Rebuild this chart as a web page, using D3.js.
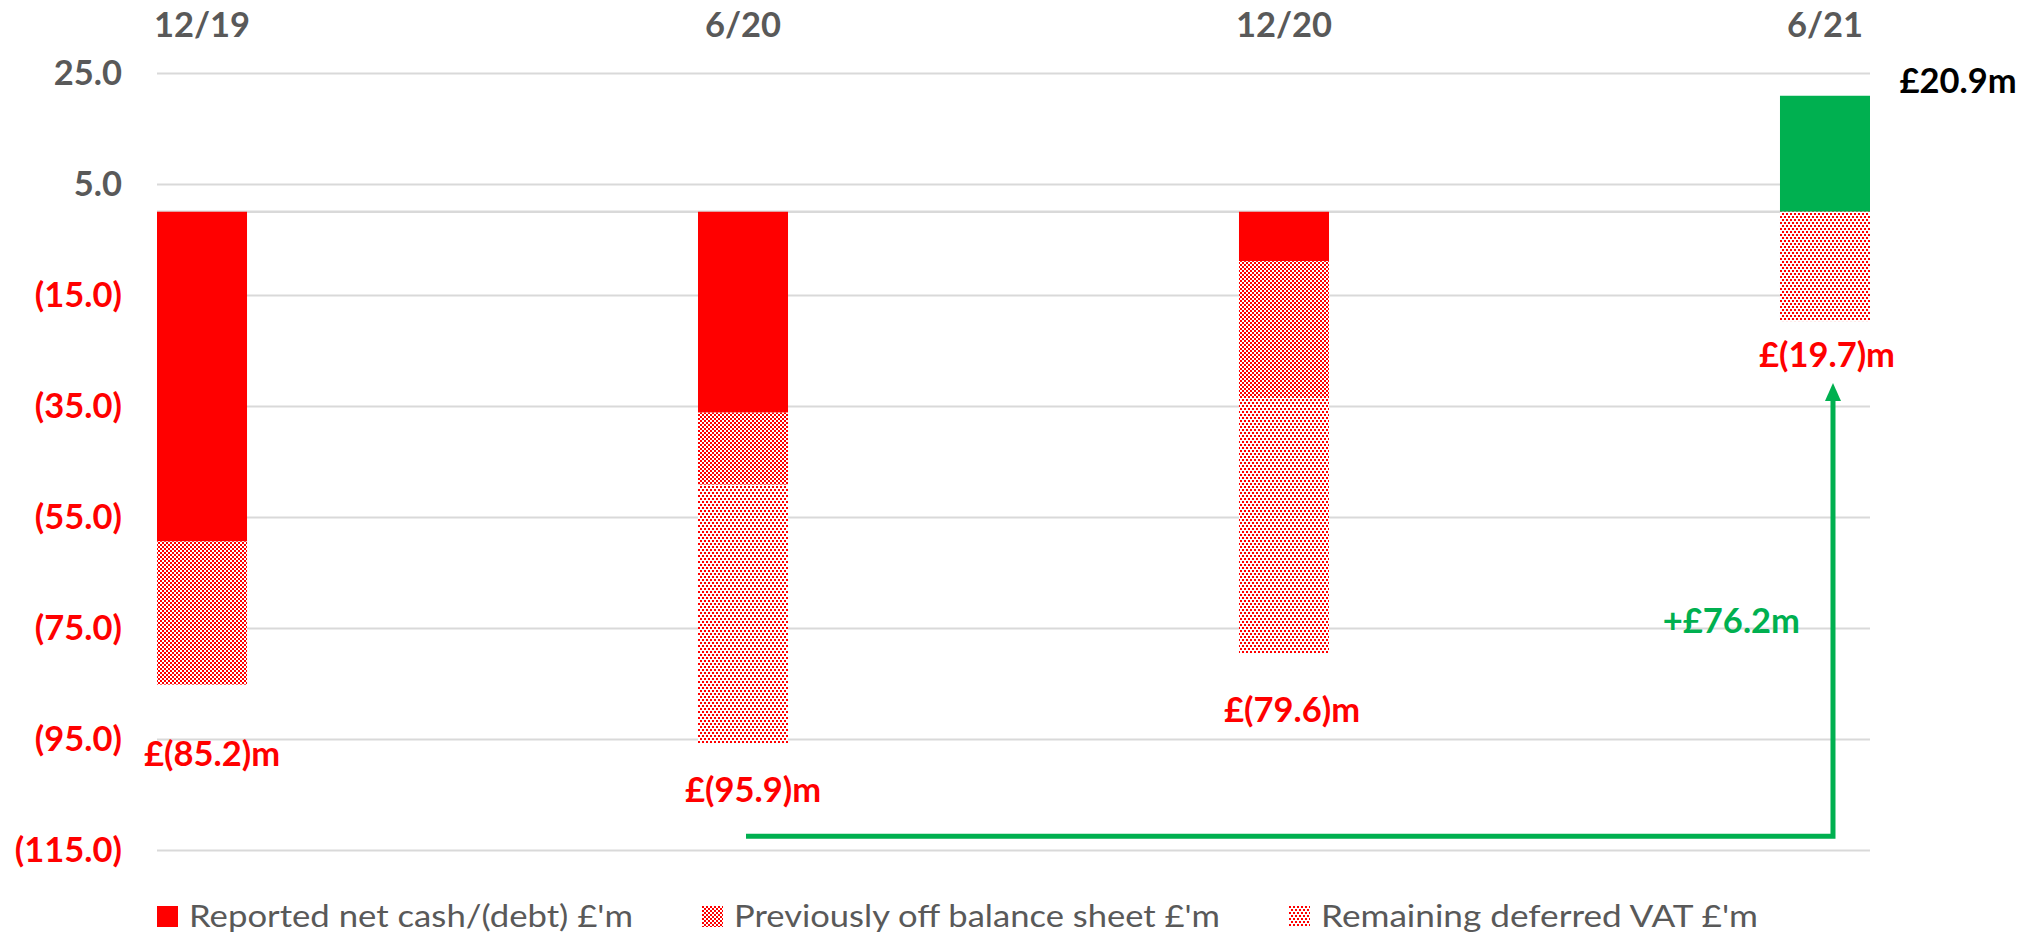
<!DOCTYPE html>
<html>
<head>
<meta charset="utf-8">
<script src="https://cdn.jsdelivr.net/npm/d3@7"></script>
<style>
  html, body { margin: 0; padding: 0; background: #ffffff; }
  svg { display: block; }
</style>
</head>
<body>
<svg id="chart" width="2028" height="933"></svg>
<script>
// ---- data ----
const categories   = ["12/19", "6/20", "12/20", "6/21"];
const reported     = [-59.4, -36.2, -8.9, 20.9];   // Reported net cash/(debt) £'m
const offBalance   = [-25.8, -13.0, -24.3, 0];     // Previously off balance sheet £'m
const deferredVat  = [0, -46.7, -46.4, -19.7];     // Remaining deferred VAT £'m
const seriesNames  = ["Reported net cash/(debt) £'m", "Previously off balance sheet £'m", "Remaining deferred VAT £'m"];
const yTicks       = [25, 5, -15, -35, -55, -75, -95, -115];

// ---- layout ----
const W = 2028, H = 933;
const plot = { left: 157, right: 1870, top: 73, bottom: 850 };
const RED = "#FF0000", GREEN = "#00B050", GREY = "#595959", GRID = "#D9D9D9";
const FONT = "Lato, 'Open Sans', sans-serif";
const FS = 34.5;

const svg = d3.select("#chart");

// patterns
const defs = svg.append("defs");
const chk = defs.append("pattern").attr("id", "checker").attr("patternUnits", "userSpaceOnUse")
  .attr("width", 4).attr("height", 4);
chk.append("rect").attr("width", 4).attr("height", 4).attr("fill", "#fff");
chk.append("rect").attr("x", 0).attr("y", 0).attr("width", 2).attr("height", 2).attr("fill", RED);
chk.append("rect").attr("x", 2).attr("y", 2).attr("width", 2).attr("height", 2).attr("fill", RED);

const dot = defs.append("pattern").attr("id", "dots").attr("patternUnits", "userSpaceOnUse")
  .attr("width", 4).attr("height", 6);
dot.append("rect").attr("width", 4).attr("height", 6).attr("fill", "#fff");
dot.append("rect").attr("x", 0).attr("y", 0).attr("width", 2).attr("height", 2).attr("fill", RED);
dot.append("rect").attr("x", 2).attr("y", 3).attr("width", 2).attr("height", 2).attr("fill", RED);

// scales
const x = d3.scaleBand().domain(categories).range([plot.left, plot.right])
  .paddingInner(0.8336).paddingOuter(0);
const y = d3.scaleLinear().domain([-115, 25]).range([plot.bottom, plot.top]);
const bw = x.bandwidth();

// gridlines
const yAxis = d3.axisLeft(y).tickValues(yTicks).tickSize(-(plot.right - plot.left)).tickFormat("");
const gGrid = svg.append("g").attr("transform", `translate(${plot.left},0)`).call(yAxis);
gGrid.select(".domain").remove();
gGrid.selectAll(".tick line").attr("stroke", GRID).attr("stroke-width", 2);

// zero line
svg.append("line").attr("x1", plot.left).attr("x2", plot.right)
  .attr("y1", y(0)).attr("y2", y(0)).attr("stroke", GRID).attr("stroke-width", 2.5);

// y tick labels
svg.append("g").selectAll("text").data(yTicks).join("text")
  .attr("x", 122).attr("y", d => y(d) + 12)
  .attr("text-anchor", "end")
  .attr("font-family", FONT).attr("font-weight", 700).attr("font-size", FS)
  .attr("fill", d => d < 0 ? RED : GREY)
  .text(d => d < 0 ? `(${Math.abs(d).toFixed(1)})` : d.toFixed(1));

// category labels (top)
svg.append("g").selectAll("text").data(categories).join("text")
  .attr("x", d => x(d) + bw / 2).attr("y", 37)
  .attr("text-anchor", "middle")
  .attr("font-family", FONT).attr("font-weight", 700).attr("font-size", FS)
  .attr("fill", GREY)
  .text(d => d);

// stacked bars
const rows = categories.map((c, i) => ({ cat: c, reported: reported[i], offBalance: offBalance[i], deferredVat: deferredVat[i] }));
const keys = ["reported", "offBalance", "deferredVat"];
const stack = d3.stack().keys(keys).offset(d3.stackOffsetDiverging)(rows);
const fills = { reported: null, offBalance: "url(#checker)", deferredVat: "url(#dots)" };

svg.append("g").selectAll("g").data(stack).join("g")
  .selectAll("rect").data(s => s.map(d => ({ key: s.key, d })).filter(o => o.d[1] - o.d[0] !== 0))
  .join("rect")
  .attr("x", o => x(o.d.data.cat))
  .attr("width", bw)
  .attr("y", o => y(Math.max(o.d[0], o.d[1])))
  .attr("height", o => Math.abs(y(o.d[0]) - y(o.d[1])))
  .attr("fill", o => o.key === "reported" ? (o.d.data.reported >= 0 ? GREEN : RED) : fills[o.key]);

// totals of negative / positive parts
const negTotals = rows.map(r => keys.reduce((s, k) => s + Math.min(0, r[k]), 0));
const posTotals = rows.map(r => keys.reduce((s, k) => s + Math.max(0, r[k]), 0));
const fmtNeg = v => `£(${Math.abs(v).toFixed(1)})m`;
const fmtPos = v => `£${v.toFixed(1)}m`;

// label offsets (annotation layout, px from bar centre / bar end)
const labelOffsets = [{ dx: 10, dy: 81 }, { dx: 10, dy: 58 }, { dx: 8, dy: 68 }, { dx: 2, dy: 46 }];

svg.append("g").selectAll("text").data(negTotals).join("text")
  .attr("x", (d, i) => x(categories[i]) + bw / 2 + labelOffsets[i].dx)
  .attr("y", (d, i) => y(d) + labelOffsets[i].dy)
  .attr("text-anchor", "middle")
  .attr("font-family", FONT).attr("font-weight", 700).attr("font-size", FS)
  .attr("fill", RED)
  .text(d => fmtNeg(d));

// positive label
const lastI = categories.length - 1;
svg.append("text")
  .attr("x", x(categories[lastI]) + bw / 2 + 133)
  .attr("y", y(posTotals[lastI]) - 3)
  .attr("text-anchor", "middle")
  .attr("font-family", FONT).attr("font-weight", 700).attr("font-size", FS)
  .attr("fill", "#000")
  .text(fmtPos(posTotals[lastI]));

// improvement arrow from 6/20 to 6/21
const fromI = 1, toI = 3;
const improvement = negTotals[toI] - negTotals[fromI];
const ax0 = x(categories[fromI]) + bw / 2 + 3;
const ax1 = x(categories[toI]) + bw / 2 + 8;
const ayBase = y(-112.5);
const ayTip = y(negTotals[toI]) + 62;
const headLen = 18, headHalf = 8;
svg.append("path")
  .attr("d", `M${ax0},${ayBase} H${ax1} V${ayTip + headLen - 2}`)
  .attr("fill", "none").attr("stroke", GREEN).attr("stroke-width", 5).attr("stroke-linejoin", "miter");
svg.append("path")
  .attr("d", `M${ax1},${ayTip} L${ax1 + headHalf},${ayTip + headLen} L${ax1 - headHalf},${ayTip + headLen} Z`)
  .attr("fill", GREEN);
svg.append("text")
  .attr("x", ax1 - 33).attr("y", y(-75) + 5)
  .attr("text-anchor", "end")
  .attr("font-family", FONT).attr("font-weight", 700).attr("font-size", FS)
  .attr("fill", GREEN)
  .text(`+£${improvement.toFixed(1)}m`);

// legend
const legendX = [157, 702, 1289];
const legendW = [444, 486, 437];
const legendFill = [RED, "url(#checker)", "url(#dots)"];
const lg = svg.append("g").selectAll("g").data(seriesNames).join("g")
  .attr("transform", (d, i) => `translate(${legendX[i]},906)`);
lg.append("rect").attr("width", 21).attr("height", 21).attr("fill", (d, i) => legendFill[i]);
lg.append("text").attr("x", 32).attr("y", 21)
  .attr("font-family", FONT).attr("font-size", 31).attr("fill", GREY)
  .attr("textLength", (d, i) => legendW[i]).attr("lengthAdjust", "spacingAndGlyphs")
  .text(d => d);
</script>
</body>
</html>
